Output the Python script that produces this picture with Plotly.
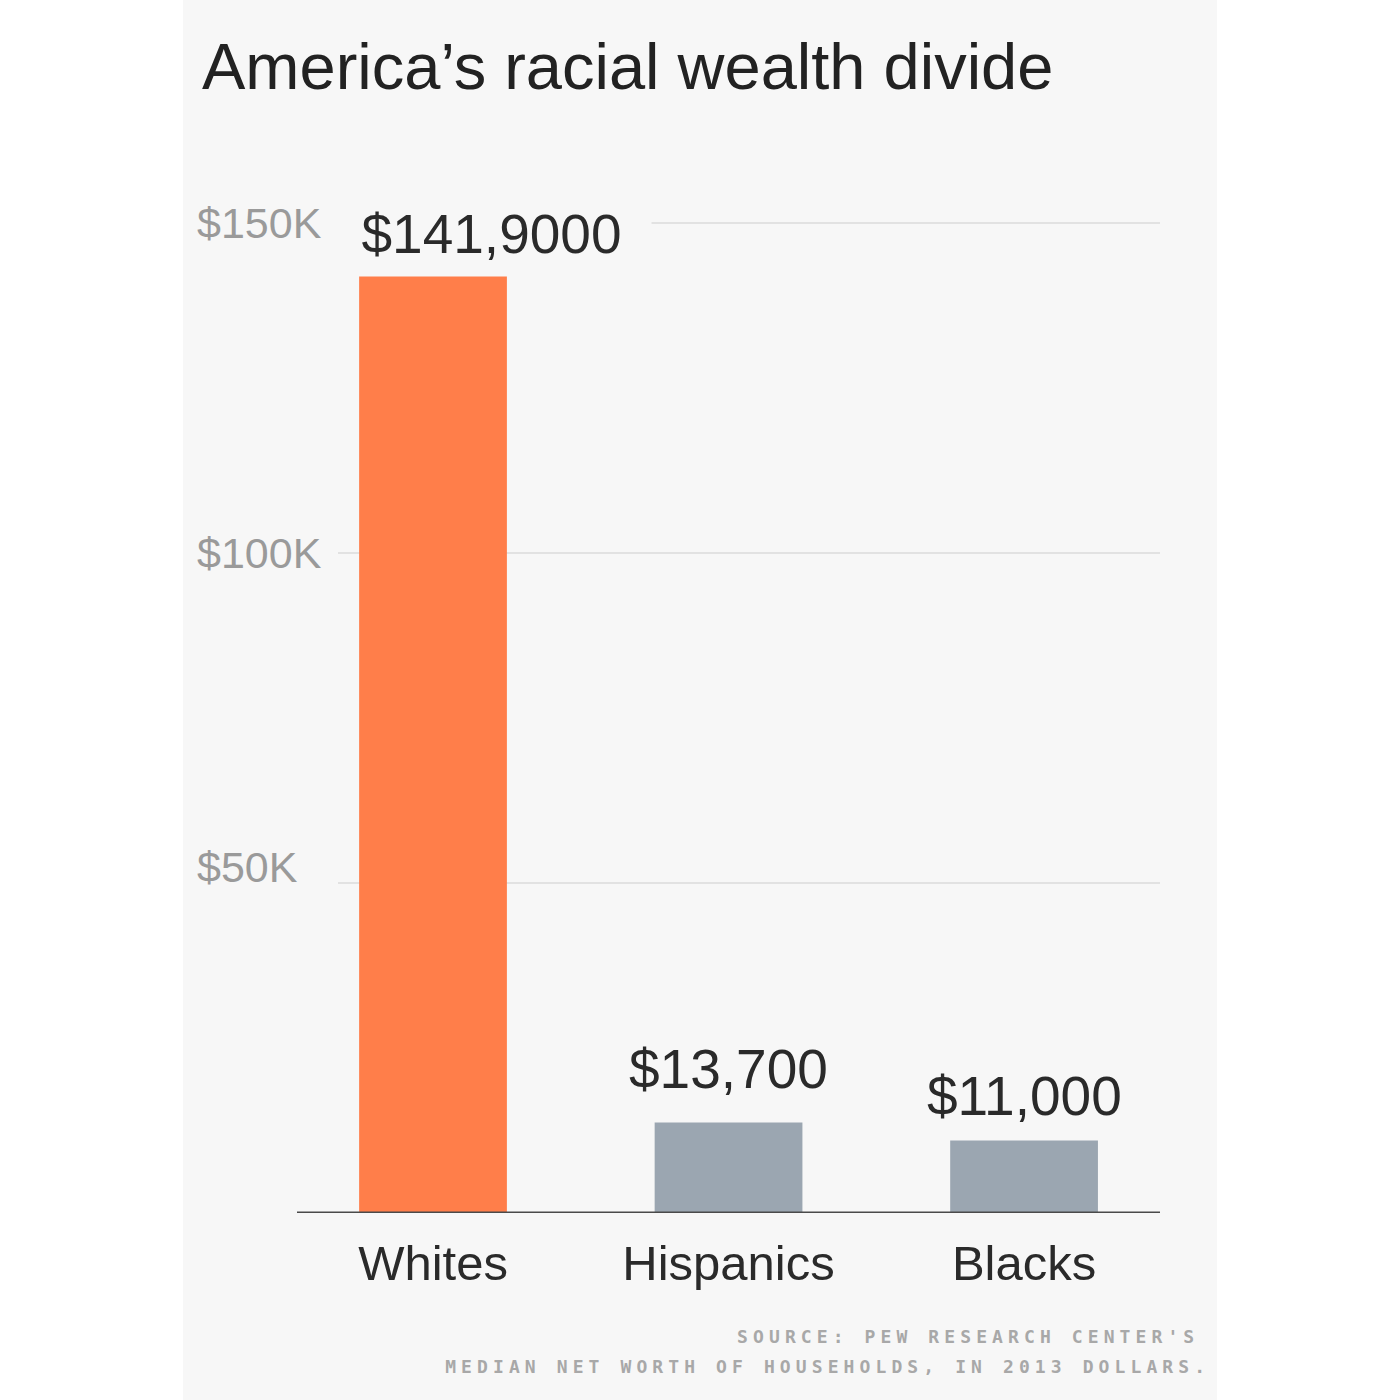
import plotly.graph_objects as go

# ---- data ----
categories = ["Whites", "Hispanics", "Blacks"]
net_worth = [141900, 13700, 11000]
value_labels = ["$141,9000", "$13,700", "$11,000"]
ytick_values = [50000, 100000, 150000]
ytick_labels = ["$50K", "$100K", "$150K"]
title_text = "America\u2019s racial wealth divide"
source_line1 = "SOURCE: PEW RESEARCH CENTER'S"
source_line2 = "MEDIAN NET WORTH OF HOUSEHOLDS, IN 2013 DOLLARS."

# ---- styles ----
W = H = 1400
FONT = "Liberation Sans, Arial, Helvetica, sans-serif"
PANEL = "#f7f7f7"
bar_colors = ["#ff7e4a", "#9ba6b1", "#9ba6b1"]
label_yshift = [43, 54, 44]
ytick_nudge = [16, 0, 0]

fig = go.Figure()
fig.add_trace(go.Bar(
    x=categories, y=net_worth, width=0.5,
    marker=dict(color=bar_colors, line=dict(width=0)),
    hoverinfo="skip", showlegend=False,
))

annotations = []
# title
annotations.append(dict(
    text=title_text, xref="paper", yref="paper", x=200 / W, y=1 - 66 / H,
    xanchor="left", yanchor="middle", showarrow=False,
    font=dict(family=FONT, size=65, color="#222222"),
))
# value labels
for i, (cat, val, lab) in enumerate(zip(categories, net_worth, value_labels)):
    if i == 0:
        annotations.append(dict(
            text=lab, xref="x domain", x=0, xanchor="left", xshift=-7,
            width=317, align="center", height=62, bgcolor=PANEL,
            yref="y", y=val, yanchor="middle", yshift=label_yshift[i], showarrow=False,
            font=dict(family=FONT, size=55, color="#2a2a2a"),
        ))
    else:
        annotations.append(dict(
            text=lab, xref="x", x=cat, xanchor="center",
            yref="y", y=val, yanchor="middle", yshift=label_yshift[i], showarrow=False,
            font=dict(family=FONT, size=55, color="#2a2a2a"),
        ))
# y tick labels (left aligned)
for v, t, n in zip(ytick_values, ytick_labels, ytick_nudge):
    annotations.append(dict(
        text=t, xref="paper", x=195 / W, xanchor="left",
        yref="y", y=v, yanchor="middle", yshift=n, showarrow=False,
        font=dict(family=FONT, size=43, color="#9a9a9a"),
    ))
# source lines
for txt, xpx, ypx in [(source_line1, 1201, 1336), (source_line2, 1212, 1366)]:
    annotations.append(dict(
        text=txt, xref="paper", yref="paper", x=xpx / W, y=1 - ypx / H,
        xanchor="right", yanchor="middle", align="right", showarrow=False,
        font=dict(family="DejaVu Sans Mono", size=18, color="#a8a8a8", weight="bold"),
    ))

shapes = [
    dict(type="rect", xref="paper", yref="paper", x0=183 / W, x1=1217 / W, y0=0, y1=1,
         fillcolor=PANEL, line=dict(width=0), layer="below"),
    dict(type="line", xref="paper", yref="y", x0=297 / W, x1=1160 / W, y0=0, y1=0,
         line=dict(color="#4a4a4a", width=3), layer="above"),
]

fig.update_layout(
    width=W, height=H,
    margin=dict(l=0, r=0, t=0, b=0),
    paper_bgcolor="white", plot_bgcolor=PANEL,
    font=dict(family=FONT),
    annotations=annotations, shapes=shapes,
    xaxis=dict(
        domain=[338 / W, 1160 / W], range=[-0.3215, 2.46],
        showgrid=False, zeroline=False, showline=False, ticks="",
        tickfont=dict(family=FONT, size=49, color="#2a2a2a"),
        ticklabelstandoff=17,
    ),
    yaxis=dict(
        domain=[1 - 1213 / H, 1 - 200 / H], range=[0, 153500],
        tickvals=ytick_values, showticklabels=False,
        showgrid=True, gridcolor="#e2e2e2", gridwidth=2,
        zeroline=False, showline=False, ticks="",
    ),
    bargap=0.5,
)

post = """
var gd = document.getElementById('{plot_id}');
gd.querySelectorAll('text.annotation-text').forEach(function(t){
  var s = t.textContent;
  if (s.indexOf('SOURCE') === 0 || s.indexOf('MEDIAN') === 0) {
    t.style.letterSpacing = '5.1px';
  }
});
"""

fig.write_html("out.html", post_script=post, config={"displayModeBar": False})
